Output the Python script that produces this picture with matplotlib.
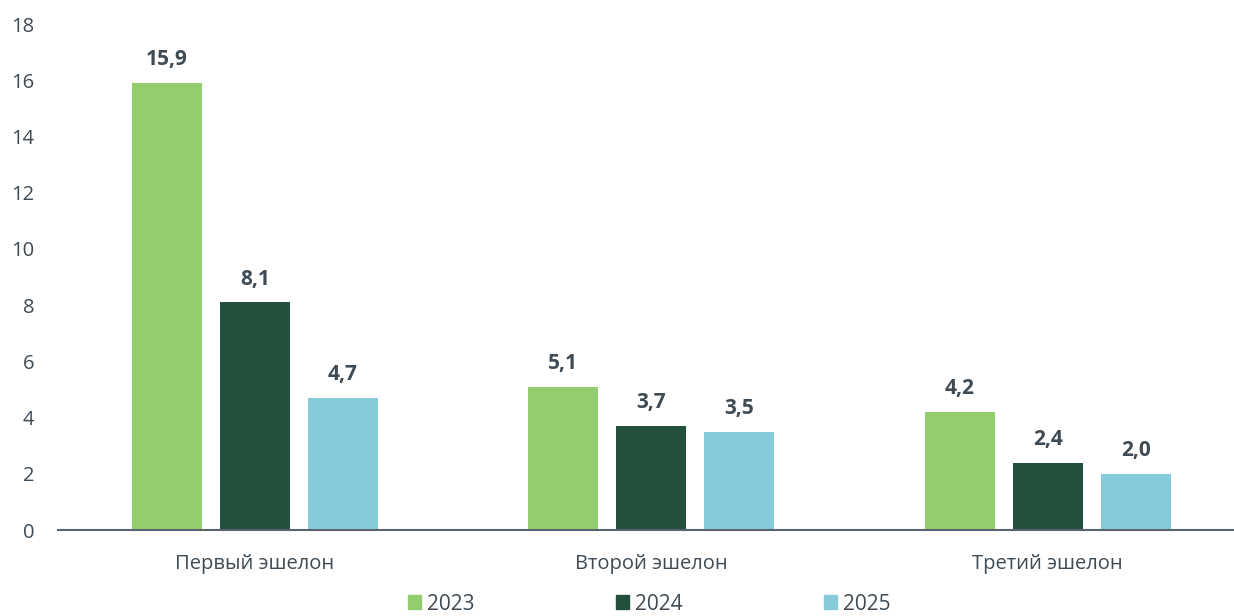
import numpy as np
import matplotlib
matplotlib.use('Agg')
import matplotlib.pyplot as plt
from matplotlib.patches import Patch

plt.rcParams['font.family'] = ['Open Sans', 'DejaVu Sans']

categories = ['Первый эшелон', 'Второй эшелон', 'Третий эшелон']
years = ['2023', '2024', '2025']
v2023 = [15.9, 5.1, 4.2]
v2024 = [8.1, 3.7, 2.4]
v2025 = [4.7, 3.5, 2.0]
colors = ['#92cd6e', '#23503c', '#85cbda']
txt = '#3e4a54'

fig = plt.figure(figsize=(12.34, 6.16), dpi=100)
ax = fig.add_axes([58 / 1234, 86 / 616, 1 - 58 / 1234, 506 / 616])

x = np.arange(len(categories))
w = 0.176
step = 0.222
for i, (vals, c) in enumerate(zip([v2023, v2024, v2025], colors)):
    pos = x + (i - 1) * step
    ax.bar(pos, vals, width=w, color=c, zorder=2)
    for p, v in zip(pos, vals):
        ax.text(p, v + 0.45, f'{v:.1f}'.replace('.', ','), ha='center', va='bottom',
                fontsize=15, fontweight='bold', color=txt)

ax.set_xlim(-0.497, 2.47)
ax.set_ylim(0, 18)
ax.set_yticks(range(0, 19, 2))
ax.set_xticks(x)
ax.set_xticklabels(categories)
ax.tick_params(axis='both', length=0, labelsize=14.5, colors=txt)
ax.tick_params(axis='y', pad=17)
ax.tick_params(axis='x', pad=17)
for s in ['top', 'right', 'left']:
    ax.spines[s].set_visible(False)
ax.spines['bottom'].set_color('#5a6470')
ax.spines['bottom'].set_linewidth(1.5)

handles = [Patch(color=c) for c in colors]
fig.legend(handles, years, loc='center', bbox_to_anchor=(0.526, 12 / 616), ncol=3,
           frameon=False, fontsize=15, labelcolor=txt, handlelength=0.65,
           handleheight=0.65, handletextpad=0.25, columnspacing=6.8,
           borderpad=0.1)

fig.savefig('out.png', dpi=100)
